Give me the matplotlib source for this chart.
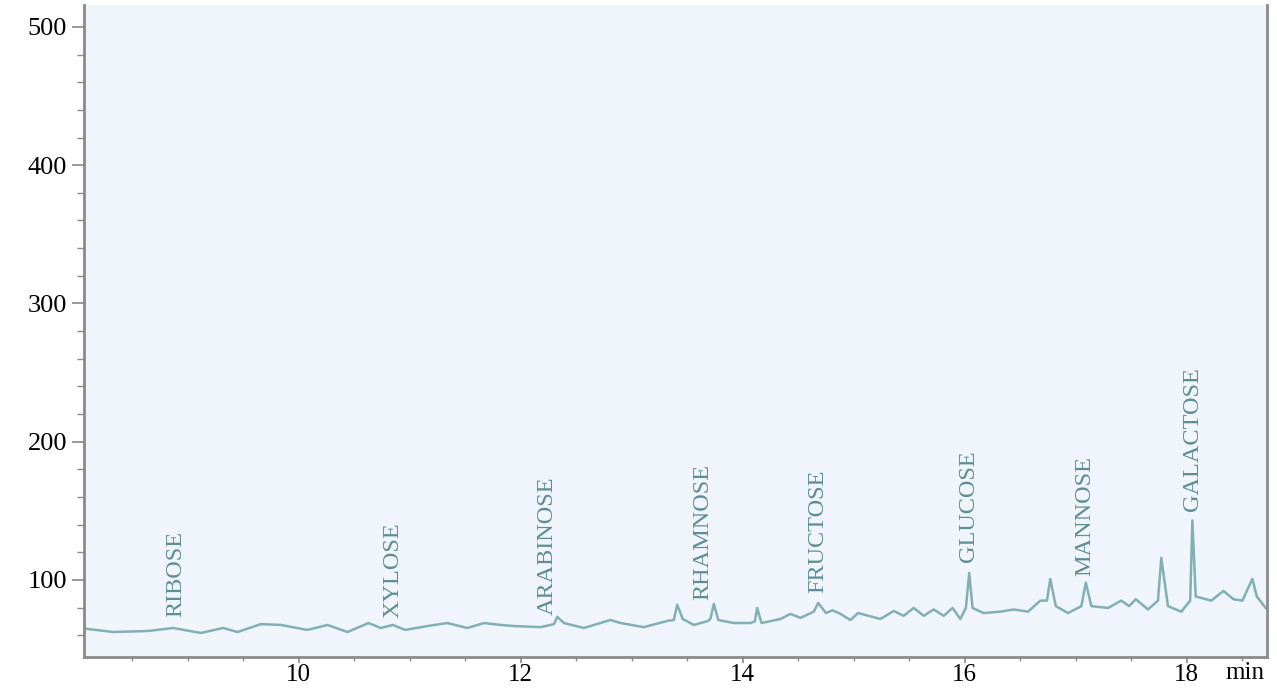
import matplotlib
matplotlib.use('Agg')
import matplotlib.pyplot as plt
from matplotlib.ticker import MultipleLocator

plt.rcParams['font.family'] = ['Liberation Serif', 'DejaVu Serif']

# chromatogram trace (time in min, detector signal)
time = [8.07, 8.10, 8.33, 8.64, 8.87, 9.12, 9.32, 9.45, 9.66, 9.84,
        10.08, 10.26, 10.44, 10.63, 10.74, 10.85, 10.96, 11.16, 11.34, 11.52,
        11.67, 11.82, 11.94, 12.18, 12.30, 12.33, 12.39, 12.57, 12.81, 12.90,
        13.11, 13.32, 13.38, 13.41, 13.46, 13.56, 13.69, 13.71, 13.74, 13.78,
        13.92, 14.07, 14.11, 14.13, 14.17, 14.34, 14.43, 14.52, 14.64, 14.68,
        14.75, 14.81, 14.88, 14.97, 15.04, 15.18, 15.24, 15.36, 15.45, 15.54,
        15.63, 15.72, 15.81, 15.89, 15.96, 16.01, 16.04, 16.07, 16.17, 16.32,
        16.44, 16.57, 16.68, 16.74, 16.77, 16.82, 16.93, 17.05, 17.09, 17.14,
        17.29, 17.41, 17.48, 17.54, 17.65, 17.74, 17.77, 17.83, 17.95, 18.03,
        18.05, 18.08, 18.22, 18.33, 18.42, 18.50, 18.59, 18.63, 18.71]
signal = [65, 64.5, 62.3, 63, 65.2, 61.6, 65.2, 62.3, 68, 67.4,
          63.8, 67.4, 62.3, 68.8, 65.2, 67.4, 63.8, 66.6, 68.8, 65.2,
          68.8, 67.4, 66.6, 65.8, 68, 73.2, 68.8, 65.2, 71, 68.8,
          65.8, 70.3, 71, 82, 71.7, 67.4, 70.3, 72, 82.6, 71,
          68.8, 68.8, 70, 79.7, 68.8, 71.7, 75.4, 72.5, 77, 83.3,
          76, 78, 75.4, 71, 76, 73, 71.7, 77.5, 74, 79.7,
          74, 78.6, 74, 79.7, 71.7, 79.7, 105, 79.7, 76, 77,
          78.6, 77, 85, 85, 100.7, 81, 76, 81, 98, 81,
          79.7, 85, 81, 86, 78.6, 85, 116, 81, 77, 85,
          143, 88, 85, 92, 86, 85, 100.7, 88, 79.7]

# peak labels
sugars = ['RIBOSE', 'XYLOSE', 'ARABINOSE', 'RHAMNOSE', 'FRUCTOSE',
          'GLUCOSE', 'MANNOSE', 'GALACTOSE']
label_t = [8.89, 10.85, 12.24, 13.64, 14.68, 16.03, 17.08, 18.05]
label_y = [73.4, 72.7, 74.8, 85.6, 90.6, 113, 103, 150]

fig = plt.figure(figsize=(12.77, 6.90), dpi=100)
ax = fig.add_axes([0.066, 0.048, 0.926, 0.945])
ax.set_facecolor('#f0f5fc')

ax.plot(time, signal, color='#82afb2', lw=1.8)

for name, t, y in zip(sugars, label_t, label_y):
    ax.text(t, y, name, rotation=90, ha='center', va='bottom',
            fontsize=17.5, color='#5f8d92')

ax.set_xlim(8.07, 18.72)
ax.set_ylim(44.3, 516)
ax.xaxis.set_minor_locator(MultipleLocator(0.5))
ax.yaxis.set_minor_locator(MultipleLocator(20))
ax.set_xticks([10, 12, 14, 16, 18])
ax.set_yticks([100, 200, 300, 400, 500])

ax.tick_params(axis='y', which='major', labelsize=19, colors='#888888',
               labelcolor='black', length=9, width=1.2)
ax.tick_params(axis='y', which='minor', colors='#888888', length=5, width=1)
ax.tick_params(axis='x', which='major', labelsize=18, colors='#888888',
               labelcolor='black', length=4, width=1.2, pad=1)
ax.tick_params(axis='x', which='minor', colors='#888888', length=3, width=1)

for side in ['left', 'bottom', 'right']:
    ax.spines[side].set_color('#8a8a8a')
    ax.spines[side].set_linewidth(2)
ax.spines['top'].set_visible(False)

ax.text(0.998, -0.008, 'min', transform=ax.transAxes, ha='right', va='top',
        fontsize=18)

fig.savefig('out.png', dpi=100)
plt.close(fig)
